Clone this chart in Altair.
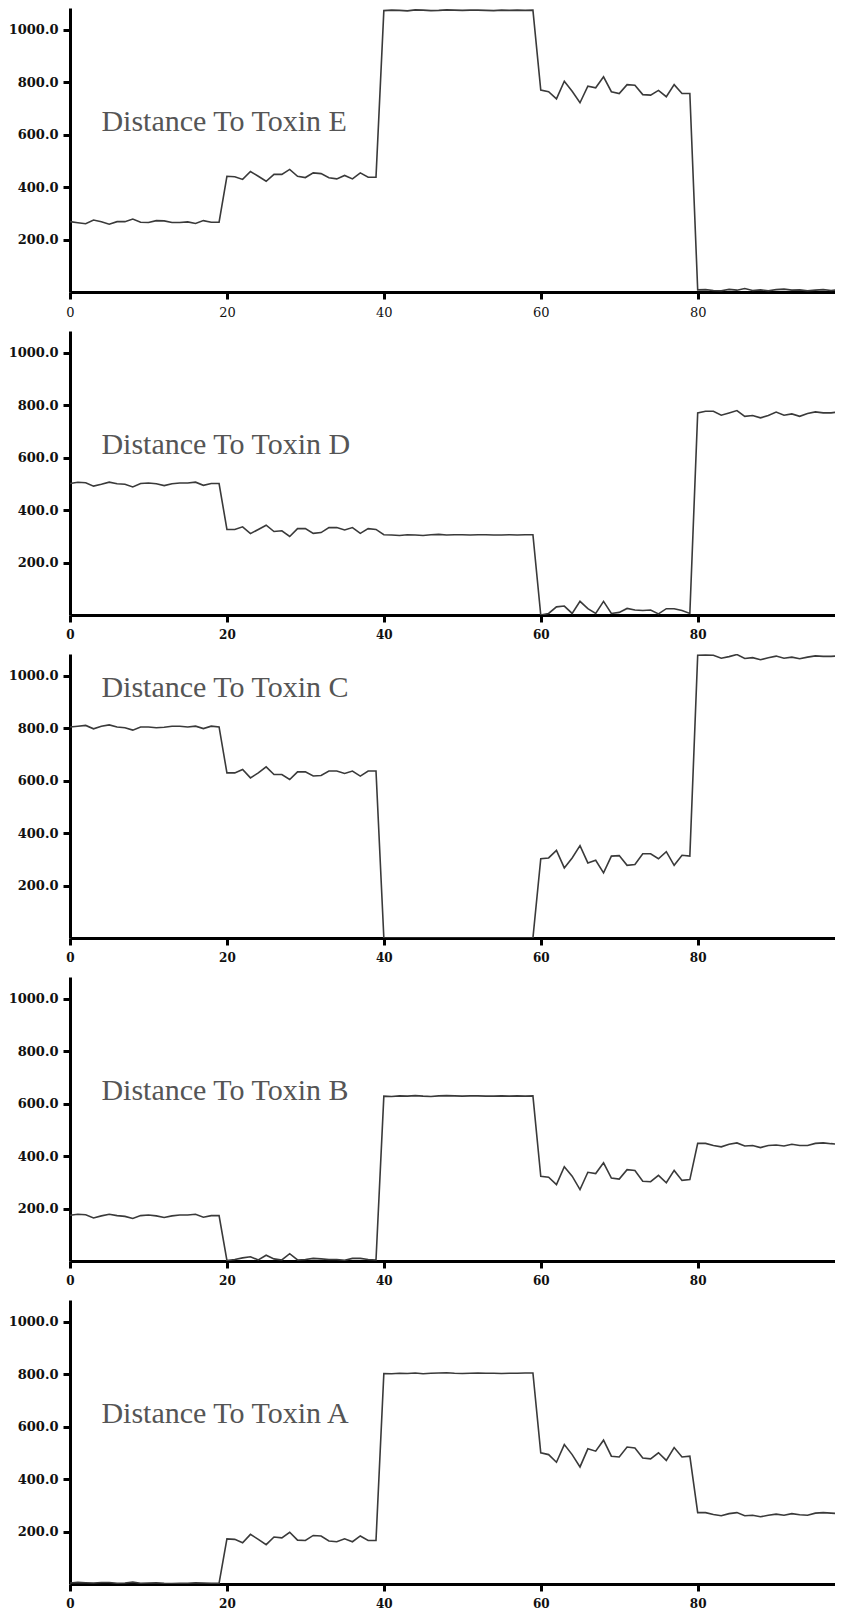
import altair as alt
import pandas as pd

# ---- data ----
steps = list(range(100))

toxin_e = ([268, 264, 260, 274, 268, 258, 268, 268, 278, 266, 265, 272, 271, 265, 265, 267, 261, 272, 266, 266]
           + [441, 439, 429, 459, 441, 422, 448, 448, 467, 441, 436, 454, 451, 435, 431, 444, 431, 454, 437, 437]
           + [1072, 1074, 1073, 1071, 1075, 1074, 1072, 1073, 1075, 1074, 1073, 1074, 1074, 1073, 1072, 1074, 1073, 1074, 1073, 1074]
           + [769, 763, 736, 803, 765, 721, 784, 778, 820, 763, 756, 790, 788, 752, 750, 768, 744, 790, 756, 756]
           + [8, 9, 6, 5, 10, 7, 13, 6, 8, 5, 9, 11, 7, 8, 5, 7, 9, 6, 8, 9])

toxin_d = ([501, 506, 504, 491, 498, 506, 500, 498, 488, 501, 503, 500, 493, 500, 503, 503, 506, 494, 501, 501]
           + [326, 326, 336, 310, 326, 342, 318, 321, 299, 329, 329, 311, 314, 333, 333, 324, 333, 311, 329, 326]
           + [306, 305, 303, 306, 305, 303, 306, 307, 305, 306, 306, 305, 306, 306, 305, 305, 306, 305, 306, 306]
           + [0, 6, 31, 34, 6, 52, 24, 6, 52, 6, 10, 25, 19, 17, 19, 4, 24, 24, 17, 6]
           + [770, 776, 776, 761, 770, 779, 757, 760, 751, 760, 773, 761, 766, 757, 768, 774, 770, 770, 774, 768])

toxin_c = ([804, 807, 810, 797, 807, 812, 804, 801, 792, 804, 804, 801, 803, 807, 807, 804, 807, 798, 807, 804]
           + [629, 629, 642, 610, 629, 652, 623, 623, 604, 633, 633, 617, 619, 636, 636, 627, 636, 617, 636, 636]
           + [0, 0, 0, 0, 0, 0, 0, 0, 0, 0, 0, 0, 0, 0, 0, 0, 0, 0, 0, 0]
           + [302, 305, 334, 267, 305, 352, 286, 296, 248, 312, 314, 277, 280, 321, 321, 302, 329, 277, 315, 312]
           + [1077, 1078, 1077, 1066, 1072, 1080, 1065, 1068, 1060, 1068, 1074, 1066, 1070, 1064, 1070, 1075, 1073, 1073, 1075, 1070])

toxin_b = ([174, 178, 176, 164, 172, 178, 173, 170, 162, 173, 175, 172, 166, 172, 175, 175, 178, 167, 173, 173]
           + [2, 6, 12, 16, 4, 22, 8, 4, 28, 4, 6, 10, 8, 6, 6, 3, 10, 10, 6, 4]
           + [628, 627, 629, 628, 630, 628, 627, 629, 630, 629, 628, 629, 629, 628, 628, 629, 628, 629, 628, 629]
           + [323, 319, 291, 359, 323, 272, 338, 333, 374, 316, 312, 348, 345, 304, 302, 326, 298, 345, 307, 310]
           + [448, 448, 440, 435, 445, 450, 438, 440, 432, 440, 442, 438, 445, 440, 440, 448, 450, 447, 445, 440])

toxin_a = ([4, 6, 5, 4, 6, 6, 3, 4, 7, 3, 4, 5, 3, 2, 3, 3, 5, 4, 3, 3]
           + [172, 170, 157, 189, 170, 150, 179, 176, 197, 167, 166, 185, 183, 164, 161, 172, 161, 183, 166, 166]
           + [802, 801, 803, 802, 804, 801, 803, 804, 805, 803, 802, 803, 804, 803, 803, 802, 803, 803, 804, 804]
           + [500, 493, 464, 531, 493, 446, 515, 506, 548, 487, 484, 522, 518, 480, 477, 500, 471, 520, 484, 487]
           + [272, 272, 265, 260, 268, 272, 260, 262, 256, 262, 266, 262, 268, 264, 262, 270, 272, 270, 268, 265])

series = [toxin_e, toxin_d, toxin_c, toxin_b, toxin_a]
labels = ["Distance To Toxin E", "Distance To Toxin D", "Distance To Toxin C",
          "Distance To Toxin B", "Distance To Toxin A"]
label_x = [4, 4, 4, 4, 4]
label_y = [613, 615, 919, 612, 614]

x_ticks = [0, 20, 40, 60, 80]
y_ticks = [200, 400, 600, 800, 1000]

X_MAX = 97.5
Y_MAX = 1082


def panel(values, label, lx, ly, first):
    df = pd.DataFrame({"step": steps, "dist": values})
    x_axis = alt.Axis(values=x_ticks, format="d", title=None, labelFlush=False,
                      labelFontWeight="normal" if first else "bold",
                      labelFontSize=13 if first else 12)
    y_axis = alt.Axis(values=y_ticks, format=".1f", title=None)
    line = alt.Chart(df).mark_line(color="#3a3a3a", strokeWidth=1.6, clip=True).encode(
        x=alt.X("step:Q", scale=alt.Scale(domain=[0, X_MAX], nice=False, zero=False), axis=x_axis),
        y=alt.Y("dist:Q", scale=alt.Scale(domain=[0, Y_MAX], nice=False), axis=y_axis),
    )
    tdf = pd.DataFrame({"step": [lx], "dist": [ly], "t": [label]})
    text = alt.Chart(tdf).mark_text(
        align="left", baseline="alphabetic", font="Liberation Serif",
        fontSize=30, color="#555555"
    ).encode(x="step:Q", y="dist:Q", text="t:N")
    return alt.layer(line, text).properties(width=765, height=284)


panels = [panel(series[i], labels[i], label_x[i], label_y[i], i == 0) for i in range(5)]

chart = alt.vconcat(*panels, spacing=39, bounds="flush").properties(
    padding={"left": 0, "top": 0, "right": 0, "bottom": 0},
    background="white",
).configure_axis(
    grid=False,
    domainColor="black",
    domainWidth=3,
    tickColor="black",
    tickWidth=3,
    tickSize=7,
    labelFont="DejaVu Serif",
    labelFontWeight="bold",
    labelFontSize=13,
    labelColor="#111111",
).configure_axisX(
    labelPadding=7,
).configure_axisY(
    labelPadding=5,
).configure_view(strokeWidth=0)

chart.save("out.html", embed_options={"renderer": "svg", "actions": False})
